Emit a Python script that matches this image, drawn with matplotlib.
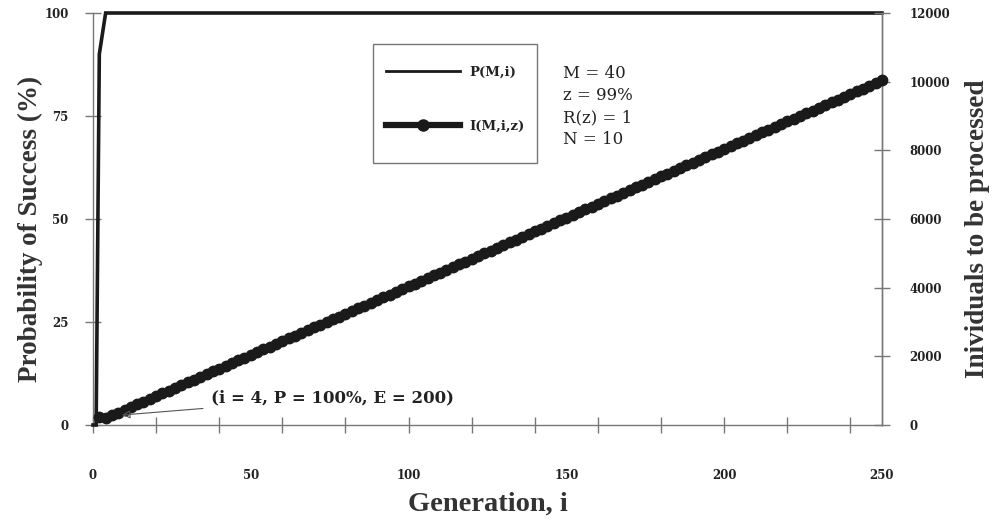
import matplotlib
matplotlib.use("Agg")
import matplotlib.pyplot as plt
from matplotlib.lines import Line2D
from matplotlib.patches import Rectangle

# ---- data ----
gen_P = [0, 1, 2, 3, 4, 250]
prob_success = [0, 0, 90, 95, 100, 100]

gen_I = list(range(2, 251, 2))
individuals = [240, 200, 280, 360, 440, 520, 600, 680, 760, 840, 920, 1000, 1080, 1160,
               1240, 1320, 1400, 1480, 1560, 1640, 1720, 1800, 1880, 1960, 2040, 2120,
               2200, 2280, 2360, 2440, 2520, 2600, 2680, 2760, 2840, 2920, 3000, 3080,
               3160, 3240, 3320, 3400, 3480, 3560, 3640, 3720, 3800, 3880, 3960, 4040,
               4120, 4200, 4280, 4360, 4440, 4520, 4600, 4680, 4760, 4840, 4920, 5000,
               5080, 5160, 5240, 5320, 5400, 5480, 5560, 5640, 5720, 5800, 5880, 5960,
               6040, 6120, 6200, 6280, 6360, 6440, 6520, 6600, 6680, 6760, 6840, 6920,
               7000, 7080, 7160, 7240, 7320, 7400, 7480, 7560, 7640, 7720, 7800, 7880,
               7960, 8040, 8120, 8200, 8280, 8360, 8440, 8520, 8600, 8680, 8760, 8840,
               8920, 9000, 9080, 9160, 9240, 9320, 9400, 9480, 9560, 9640, 9720, 9800,
               9880, 9960, 10040]

x_ticks = list(range(0, 251, 20))
x_ticklabels_pos = [0, 50, 100, 150, 200, 250]
left_ticks = [0, 25, 50, 75, 100]
right_ticks = [0, 2000, 4000, 6000, 8000, 10000, 12000]
params_text = ["M = 40", "z = 99%", "R(z) = 1", "N = 10"]
annot_text = "(i = 4, P = 100%, E = 200)"

# ---- figure ----
W, H = 1004, 524
fig = plt.figure(figsize=(W / 100, H / 100), dpi=100)
ax = fig.add_axes([93 / W, 1 - 425 / H, (882 - 93) / W, (425 - 13) / H])
ax2 = ax.twinx()

TXT = "#222222"
SP = "#777777"
tick_font = dict(family="DejaVu Serif", weight="bold", size=8.5)

ax.set_xlim(0, 250)
ax.set_ylim(0, 100)
ax2.set_ylim(0, 12000)

ax.plot(gen_P, prob_success, color="#1a1a1a", lw=2.6, solid_joinstyle="miter", zorder=3,
        clip_on=False)
ax2.plot(gen_I, individuals, color="#1a1a1a", lw=3.5, marker="o", ms=7.5, zorder=3,
         clip_on=False)

for a in (ax, ax2):
    a.spines["top"].set_visible(False)
    for s in ("left", "right", "bottom"):
        a.spines[s].set_color(SP)
        a.spines[s].set_linewidth(1.0)
ax2.spines["left"].set_visible(False)
ax2.spines["bottom"].set_visible(False)

# x ticks: marks every 20, labels every 50
ax.xaxis.remove_overlapping_locs = False
ax.set_xticks(x_ticks)
ax.set_xticklabels([])
ax.set_xticks(x_ticklabels_pos, minor=True)
ax.set_xticklabels([str(v) for v in x_ticklabels_pos], minor=True, **tick_font)
ax.tick_params(axis="x", which="major", direction="inout", length=11, width=1, color=SP)
ax.tick_params(axis="x", which="minor", length=0, pad=32, labelcolor=TXT)

ax.set_yticks(left_ticks)
ax.set_yticklabels([str(v) for v in left_ticks], **tick_font)
ax.tick_params(axis="y", direction="inout", length=11, width=1, color=SP, pad=12,
               labelcolor=TXT)

ax2.set_yticks(right_ticks)
ax2.set_yticklabels([str(v) for v in right_ticks], **tick_font)
ax2.tick_params(axis="y", direction="inout", length=11, width=1, color=SP, pad=14,
                labelcolor=TXT)

lab_font = dict(family="Liberation Serif", weight="bold", color="#333333")
fig.text(30 / W, 1 - 229 / H, "Probability of Success (%)", rotation=90,
         ha="center", va="center", size=19.5, **lab_font)
fig.text(978 / W, 1 - 229 / H, "Inividuals to be processed", rotation=90,
         ha="center", va="center", size=19.5, **lab_font)
fig.text(488 / W, 1 - 504 / H, "Generation, i", ha="center", va="center", size=20.5,
         **lab_font)

# legend frame (drawn separately) + legend entries
frame = Rectangle((373 / W, 1 - 163 / H), (537 - 373) / W, (163 - 44) / H,
                  transform=fig.transFigure, facecolor="white",
                  edgecolor="#777777", lw=1.0, zorder=4, clip_on=False)
ax2.add_artist(frame)
handles = [Line2D([], [], color="#1a1a1a", lw=2.0),
           Line2D([], [], color="#1a1a1a", lw=4.5, marker="o", ms=8)]
leg = ax2.legend(handles, ["P(M,i)", "I(M,i,z)"], loc="upper left",
                 bbox_to_anchor=(386 / W, 1 - 65.5 / H), bbox_transform=fig.transFigure,
                 prop=dict(family="DejaVu Serif", weight="bold", size=9.5),
                 handlelength=5.6, handletextpad=0.75, labelspacing=3.1, borderpad=0,
                 borderaxespad=0, numpoints=1, frameon=False)
leg.set_zorder(6)
for t in leg.get_texts():
    t.set_color(TXT)

# parameter text
for k, s in enumerate(params_text):
    fig.text(563 / W, 1 - (74 + 22 * k) / H, s, ha="left", va="center",
             family="DejaVu Serif", size=12, color=TXT)

# annotation
ax2.annotate(annot_text, xy=(9.2, 290), xytext=(37.5, 790), textcoords="data",
             ha="left", va="center", family="DejaVu Serif", weight="bold", size=12,
             color=TXT,
             arrowprops=dict(arrowstyle="-|>", color="#555555", lw=0.8,
                             shrinkA=4, shrinkB=0, mutation_scale=12, fill=False))

fig.savefig("out.png", dpi=100)
